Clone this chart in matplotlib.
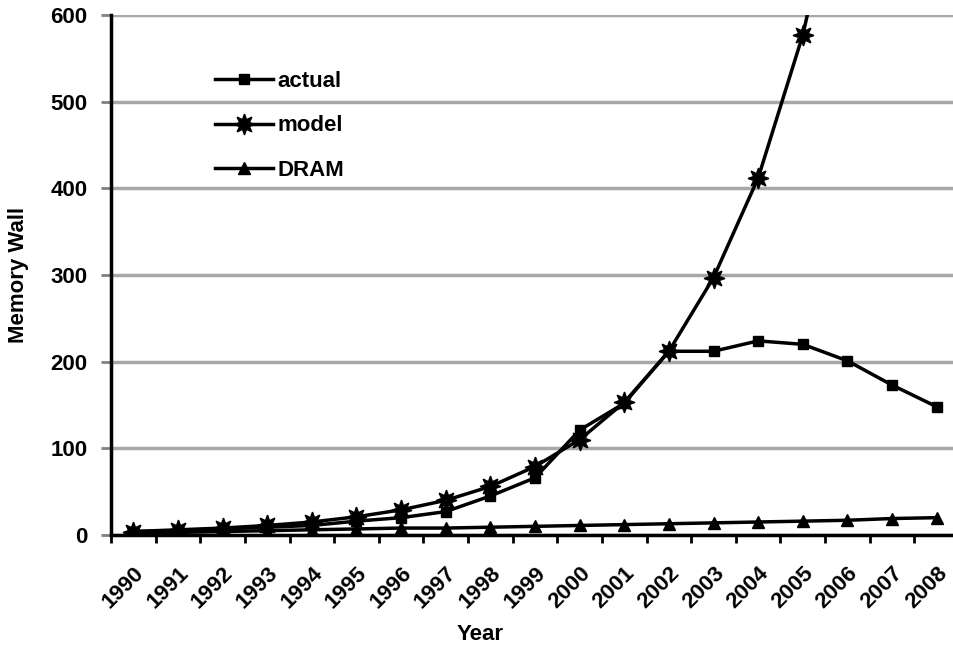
import matplotlib
matplotlib.use("Agg")
import matplotlib.pyplot as plt
import numpy as np

# Values
years = [str(y) for y in range(1990, 2009)]
actual = [4, 5, 7, 9, 11, 16, 20, 27, 45, 66, 121, 152, 212, 212, 224, 220, 201, 173, 148]
model = [4, 6, 8, 11, 15, 21, 29, 40, 56, 79, 110, 153, 212, 297, 412, 577, 803]
dram = [2, 3, 4, 5, 6, 7, 8, 8, 9, 10, 11, 12, 13, 14, 15, 16, 17, 19, 20]

plt.rcParams["font.family"] = ["Liberation Sans", "DejaVu Sans"]
plt.rcParams["font.weight"] = "bold"
fs = 16

fig = plt.figure(figsize=(9.54, 6.5), dpi=100)
ax = fig.add_axes([111 / 954, 115 / 650, 848 / 954, 520 / 650])

x = np.arange(len(years))
ax.plot(x[:len(actual)], actual, color="black", lw=2.5, marker="s", ms=7,
        label="actual", zorder=4)
ax.plot(x[:len(model)], model, color="black", lw=2.5, marker=(8, 1, 0), ms=15,
        label="model", zorder=5)
ax.plot(x[:len(dram)], dram, color="black", lw=2.5, marker="^", ms=9,
        label="DRAM", zorder=3)

ax.set_xlim(-0.5, len(years) - 0.5)
ax.set_ylim(0, 600)
ax.set_yticks(np.arange(0, 601, 100))
ax.grid(axis="y", color="#a8a8a8", lw=2.5, zorder=0)
ax.set_axisbelow(True)

# category labels in the middle, tick marks on the boundaries
ax.set_xticks(x)
ax.set_xticklabels(years, rotation=45, ha="right", va="top",
                   rotation_mode="anchor", fontsize=fs, fontweight="bold")
ax.tick_params(axis="x", which="major", length=0, pad=20)
ax.set_xticks(np.arange(-0.5, len(years)), minor=True)
ax.tick_params(axis="x", which="minor", length=6, width=2, color="black")
ax.tick_params(axis="y", length=7, width=2, color="#808080", labelsize=fs, pad=10)
for lab in ax.get_yticklabels():
    lab.set_fontweight("bold")

for side in ["top", "right"]:
    ax.spines[side].set_visible(False)
ax.spines["left"].set_linewidth(2.5)
ax.spines["bottom"].set_linewidth(2.5)

ax.set_xlabel("Year", fontsize=fs, fontweight="bold")
ax.xaxis.set_label_coords(0.435, -0.171)
ax.set_ylabel("Memory Wall", fontsize=fs, fontweight="bold")
ax.yaxis.set_label_coords(-0.097, 0.5)

leg = ax.legend(loc="upper left", bbox_to_anchor=(0.1226, 0.893), frameon=False,
                fontsize=fs, handlelength=2.6, handletextpad=0.2,
                labelspacing=1.07, borderpad=0, borderaxespad=0)
for t in leg.get_texts():
    t.set_fontweight("bold")

plt.savefig("out.png", dpi=100)
plt.close()
